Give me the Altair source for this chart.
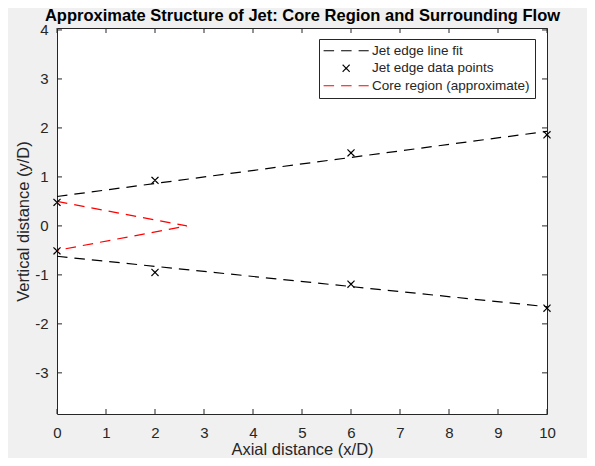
import altair as alt
import pandas as pd

# ---- data ----
x_ticks = [0, 1, 2, 3, 4, 5, 6, 7, 8, 9, 10]
y_ticks = [-3, -2, -1, 0, 1, 2, 3, 4]

pt_x = [0, 2, 6, 10]
upper_pts = [0.48, 0.93, 1.49, 1.86]
lower_pts = [-0.51, -0.95, -1.19, -1.68]

fit_x = [0, 10]
upper_fit = [0.60, 1.93]
lower_fit = [-0.62, -1.65]

core_x = [0, 2.65, 0]
core_y = [0.5, 0.0, -0.5]

S_FIT = "Jet edge line fit"
S_PTS = "Jet edge data points"
S_CORE = "Core region (approximate)"
series = [S_FIT, S_PTS, S_CORE]

TITLE = "Approximate Structure of Jet: Core Region and Surrounding Flow"
X_TITLE = "Axial distance (x/D)"
Y_TITLE = "Vertical distance (y/D)"

# ---- tables ----
line_rows = []
for i, (xv, yv) in enumerate(zip(fit_x, upper_fit)):
    line_rows.append({"series": S_FIT, "grp": "upper", "ord": i, "x": xv, "y": yv})
for i, (xv, yv) in enumerate(zip(fit_x, lower_fit)):
    line_rows.append({"series": S_FIT, "grp": "lower", "ord": i, "x": xv, "y": yv})
for i, (xv, yv) in enumerate(zip(core_x, core_y)):
    line_rows.append({"series": S_CORE, "grp": "core", "ord": i, "x": xv, "y": yv})
lines_df = pd.DataFrame(line_rows)

pt_rows = [{"series": S_PTS, "x": xv, "y": yv} for xv, yv in zip(pt_x, upper_pts)]
pt_rows += [{"series": S_PTS, "x": xv, "y": yv} for xv, yv in zip(pt_x, lower_pts)]
pts_df = pd.DataFrame(pt_rows)

xt_df = pd.DataFrame({"x": x_ticks})
yt_df = pd.DataFrame({"y": y_ticks})

W, H = 490, 386
TXT = "#262626"
FONT = "Liberation Sans"

xscale = alt.Scale(domain=[0, 10], nice=False, zero=False)
yscale = alt.Scale(domain=[-3.84, 4.04], nice=False, zero=False)

xaxis = alt.Axis(values=x_ticks, ticks=False, tickSize=0, domain=False, grid=False,
                 labelFontSize=15, labelColor=TXT, labelPadding=11, labelFont=FONT,
                 labelExpr="'' + datum.value", labelFlush=False, labelOverlap=False,
                 title=X_TITLE, titleFontSize=16.5, titleFontWeight="normal",
                 titleColor=TXT, titleFont=FONT, titleX=W / 2, titleY=40,
                 titleAlign="center", titleBaseline="alphabetic")
top_axis = alt.Axis(orient="top", labels=False, ticks=False, tickSize=0, domain=False, grid=False,
                    title=TITLE, titleFontSize=16.5, titleFontWeight="bold",
                    titleColor="#000000", titleFont=FONT, titleX=W / 2, titleY=-7.5,
                    titleAlign="center", titleBaseline="alphabetic")
yaxis = alt.Axis(values=y_ticks, ticks=False, tickSize=0, domain=False, grid=False,
                 labelFontSize=15, labelColor=TXT, labelPadding=9, labelFont=FONT,
                 labelExpr="'' + datum.value", labelFlush=False, labelOverlap=False,
                 title=Y_TITLE, titleFontSize=16.5, titleFontWeight="normal",
                 titleColor=TXT, titleFont=FONT, titleX=-34, titleY=H / 2,
                 titleAngle=270, titleAlign="center", titleBaseline="middle")


def Y():
    return alt.Y("y:Q", scale=yscale, axis=yaxis)


def Xn():
    return alt.X("x:Q", scale=xscale, axis=None)


legend = alt.Legend(title=None, orient="none", legendX=262, legendY=11,
                    fillColor="white", strokeColor=TXT, padding=5,
                    labelFontSize=13.5, labelColor=TXT, labelFont=FONT,
                    labelOffset=19, symbolOffset=15.4,
                    rowPadding=2.5, symbolSize=121, symbolStrokeWidth=1.2)

LINE_SYM = "M-4.1,0L4.1,0"
X_SYM = "M-0.64,-0.64L0.64,0.64M0.64,-0.64L-0.64,0.64"
DASH = [10.5, 7]

color = alt.Color("series:N", scale=alt.Scale(domain=series, range=["#000000", "#000000", "#ff0000"]),
                  legend=legend)
dash = alt.StrokeDash("series:N", scale=alt.Scale(domain=series, range=[DASH, [1, 0], DASH]),
                      legend=legend)
shape = alt.Shape("series:N", scale=alt.Scale(domain=series, range=[LINE_SYM, X_SYM, LINE_SYM]),
                  legend=legend)

lines = alt.Chart(lines_df).mark_line(strokeWidth=1.2).encode(
    x=Xn(), y=Y(), color=color, strokeDash=dash, detail="grp:N", order="ord:Q"
)

points = alt.Chart(pts_df).mark_point(size=121, strokeWidth=1.2, filled=False, opacity=1).encode(
    x=Xn(), y=Y(), color=color, shape=shape, strokeDash=dash
)

xt_bottom = alt.Chart(xt_df).mark_rule(color=TXT, strokeWidth=1).encode(
    x=alt.X("x:Q", scale=xscale, axis=xaxis), y=alt.value(H), y2=alt.value(H - 5))
xt_top = alt.Chart(xt_df).mark_rule(color=TXT, strokeWidth=1).encode(
    x=alt.X("x:Q", scale=xscale, axis=top_axis), y=alt.value(0), y2=alt.value(5))
yt_left = alt.Chart(yt_df).mark_rule(color=TXT, strokeWidth=1).encode(
    y=Y(), x=alt.value(0), x2=alt.value(5))
yt_right = alt.Chart(yt_df).mark_rule(color=TXT, strokeWidth=1).encode(
    y=Y(), x=alt.value(W), x2=alt.value(W - 5))

chart = alt.layer(xt_bottom, xt_top, yt_left, yt_right, lines, points).resolve_axis(
    x="independent"
).properties(
    width=W, height=H,
    autosize=alt.AutoSizeParams(type="none"),
    padding={"left": 49, "top": 20, "right": 40, "bottom": 44},
).configure(background="#f0f0f0").configure_view(fill="white", stroke=TXT, strokeWidth=1)

chart.save("out.html", embed_options={"renderer": "svg", "actions": False})
